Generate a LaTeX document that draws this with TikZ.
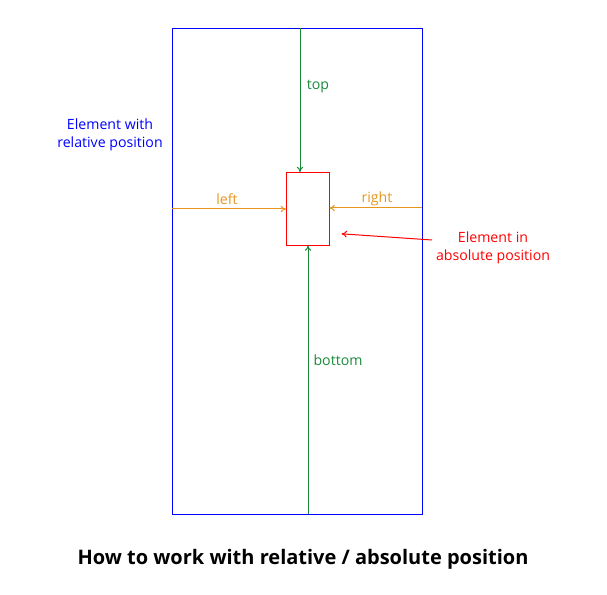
\documentclass[tikz,border=0pt]{standalone}
\usepackage{fontspec}
\setmainfont{Open Sans}
\usetikzlibrary{arrows.meta,positioning,calc}
\definecolor{blue2}{HTML}{0000FF}
\definecolor{red2}{HTML}{FF0000}
\definecolor{green2}{HTML}{1A8A3A}
\definecolor{orange2}{HTML}{E6961E}

\tikzset{
  box/.style={draw, minimum width=#1, inner sep=0pt},
  conn/.style={-{To[length=4pt,width=5pt]}, line width=0.75pt},
  lbl/.style={font=\fontsize{10.6}{13.5}\selectfont, align=center, inner sep=0pt}
}

\begin{document}
\begin{tikzpicture}[x=0.75pt,y=-0.75pt]
\useasboundingbox (0,0) rectangle (607,595);
% containers
\node[box=187.5pt, draw=blue2, minimum height=364.5pt, anchor=north west] (container) at (172,28) {};
\node[box=32.25pt, draw=red2, minimum height=54.75pt, anchor=north west] (elem) at (286,172) {};
% edge points
\coordinate (ptop) at (300,28);
\coordinate (pbottom) at (308,514);
\coordinate (pleft) at (172,209);
\coordinate (pright) at (422,208);
\coordinate (pnote) at (432,240);
% connectors
\draw[conn, green2] (ptop) -- (ptop |- elem.north);
\draw[conn, green2] (pbottom) -- (pbottom |- elem.south);
\draw[conn, orange2] (pleft) -- (pleft -| elem.west);
\draw[conn, orange2] (pright) -- (pright -| elem.east);
\draw[conn, red2, shorten >=9pt] (pnote) -- (elem.east |- 0,233);
% labels
\node[lbl, text=green2] (ltop) at (318,87) {top};
\node[lbl, text=green2] (lbottom) at (338,360) {bottom};
\node[lbl, text=orange2] (lleft) at (227,199) {left};
\node[lbl, text=orange2] (lright) at (377,199) {right};
\node[lbl, text=blue2] (lrel) at (110,135) {Element with\\relative position};
\node[lbl, text=red2] (labs) at (493,248) {Element in\\absolute position};
\node[font=\fontsize{15}{18}\selectfont\bfseries] (title) at (303,559) {How to work with relative / absolute position};
\end{tikzpicture}
\end{document}
